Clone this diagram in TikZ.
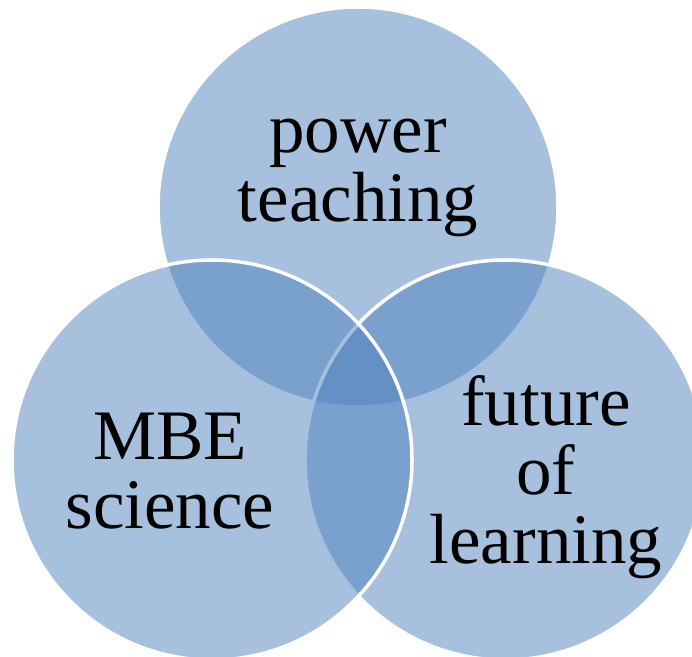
\documentclass[tikz,border=0pt]{standalone}
\usepackage{fontspec}
\setmainfont{Liberation Serif}
\usepackage{tikz}
\definecolor{vennblue}{RGB}{79,129,189}

\begin{document}
\begin{tikzpicture}[
  x=1pt, y=1pt,
  venn/.style={circle, minimum size=400pt, inner sep=0pt, fill=vennblue, fill opacity=0.5, draw=white, line width=3.5pt},
  venntext/.style={align=center, anchor=base, inner sep=0pt, font=\fontsize{71pt}{69pt}\selectfont}
]
\useasboundingbox (0,0) rectangle (692,656);

% Circles (top, right, left)
\node[venn] (power) at (358,449) {};
\node[venn] (future) at (505,196) {};
\node[venn] (mbe) at (212,196) {};

% Labels
\node[venntext] (powertext) at (358,434) {power\\teaching};
\node[venntext] (futuretext) at (546,93) {future\\of\\learning};
\node[venntext] (mbetext) at (170,128) {MBE\\science};

\end{tikzpicture}
\end{document}
